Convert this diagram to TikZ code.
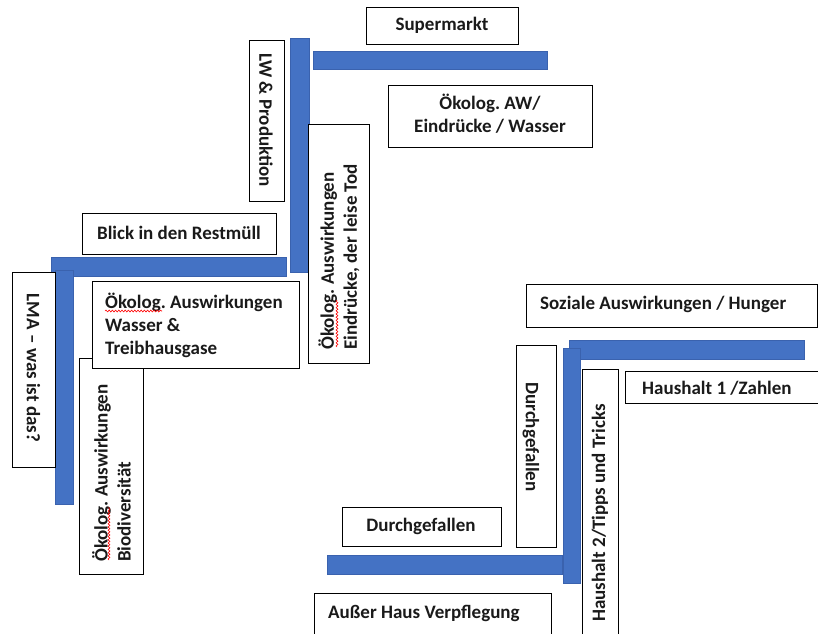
\documentclass[tikz,border=0pt]{standalone}
\usepackage{fontspec}
\setmainfont{Carlito}
\usetikzlibrary{decorations.pathmorphing}
\definecolor{barblue}{HTML}{4472C4}
\definecolor{baredge}{HTML}{3A62AE}
\definecolor{txt}{HTML}{1A1A1A}
\begin{document}
\frenchspacing
\begin{tikzpicture}[x=1pt,y=-1pt,
  bx/.style={draw=black, line width=1pt, fill=white},
  bar/.style={fill=barblue, draw=baredge, line width=0.6pt},
  lbl/.style={font=\fontsize{19}{23}\selectfont\bfseries, inner sep=0pt, text=txt},
  squig/.style={draw=red, line width=0.6pt, decorate, decoration={snake, amplitude=0.9pt, segment length=3.2pt}}
]
\useasboundingbox (0,0) rectangle (818,633);
\clip (0,0) rectangle (818,633);
\fill[white] (0,0) rectangle (818,633);

% blue bars
\draw[bar] (290,38) rectangle (309,272);
\draw[bar] (313,51) rectangle (547,69);
\draw[bar] (51,257) rectangle (286,276);
\draw[bar] (55,270) rectangle (73,504);
\draw[bar] (569,340) rectangle (804,359);
\draw[bar] (327,555) rectangle (562,574);
\draw[bar] (563,348) rectangle (580,583);

% boxes
\draw[bx] (366,7) rectangle (518,44);
\node[lbl] (super) at (442,25) {Supermarkt};

\draw[bx] (249,40) rectangle (284,201);
\node[lbl, rotate=-90] (lw) at (266,120) {LW \& Produktion};

\draw[bx] (388,85) rectangle (592,147);
\node[lbl, align=center] (oekaw) at (490,114) {Ökolog. AW/\\Eindrücke / Wasser};

\draw[bx] (308,124) rectangle (369,363);
\node[lbl, rotate=90, anchor=west, align=left] (tod) at (339,350) {Ökolog. Auswirkungen\\Eindrücke, der leise Tod};
\draw[squig] (337,347) -- (337,300);

\draw[bx] (82,213) rectangle (276,254);
\node[lbl] (blick) at (179,233) {Blick in den Restmüll};

\draw[bx] (12,272) rectangle (55,467);
\node[lbl, rotate=-90] (lma) at (33.5,368) {LMA -- was ist das?};

\draw[bx] (79,358) rectangle (143,574);
\node[lbl, rotate=90, anchor=west, align=left] (bio) at (111.5,562) {Ökolog. Auswirkungen\\Biodiversität};
\draw[squig] (109,560) -- (109,507);

\draw[bx] (92,281) rectangle (299,368);
\node[lbl, anchor=west, align=left] (wasser) at (105,325) {Ökolog. Auswirkungen\\Wasser \&\\Treibhausgase};
\draw[squig] (105,311) -- (162,311);

\draw[bx] (526,284) rectangle (817,327);
\node[lbl, anchor=west] (sozial) at (540,304) {Soziale Auswirkungen / Hunger};

\draw[bx] (625,371) rectangle (830,403);
\node[lbl, anchor=west] (hh1) at (642,388) {Haushalt 1 /Zahlen};

\draw[bx] (516,345) rectangle (556,547);
\node[lbl, rotate=-90] (durch1) at (531,437) {Durchgefallen};

\draw[bx] (582,369) rectangle (618,650);
\node[lbl, rotate=90, anchor=west] (hh2) at (600,622) {Haushalt 2/Tipps und Tricks};

\draw[bx] (342,507) rectangle (501,546);
\node[lbl] (durch2) at (421,526) {Durchgefallen};

\draw[bx] (314,593) rectangle (551,650);
\node[lbl, anchor=west] (ausser) at (328,613) {Außer Haus Verpflegung};
\end{tikzpicture}
\end{document}
